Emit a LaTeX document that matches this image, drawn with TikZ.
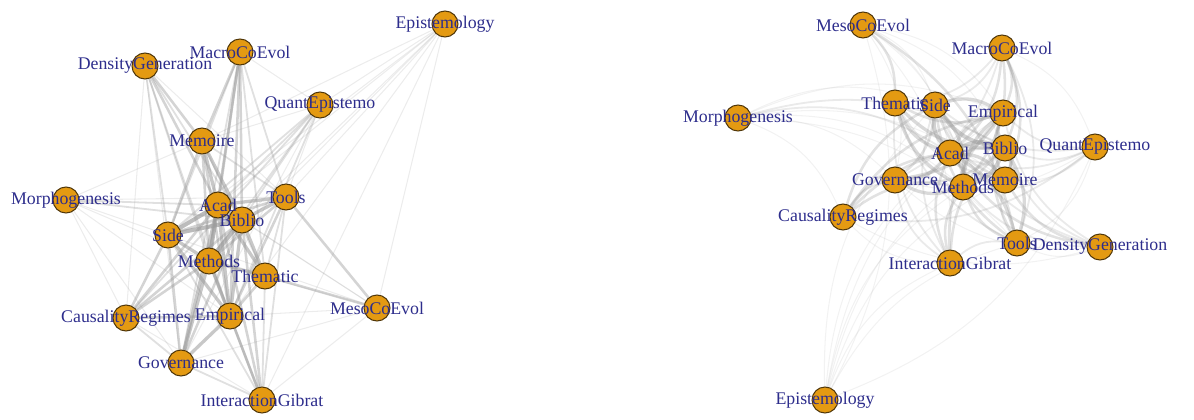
\documentclass[tikz,border=0pt]{standalone}
\usepackage{fontspec}
\setmainfont{Liberation Serif}
\pgfdeclarelayer{bg}
\pgfsetlayers{bg,main}
\definecolor{vfill}{RGB}{228,154,18}
\definecolor{vframe}{RGB}{80,55,10}
\definecolor{lblue}{RGB}{45,45,140}
\definecolor{egray}{RGB}{155,155,155}
\tikzset{
  vert/.style={circle, fill=vfill, draw=vframe, line width=1pt, minimum size=26pt, inner sep=0pt},
  vlabel/.style={text=lblue, font=\fontsize{17.8}{20}\selectfont, inner sep=0pt, anchor=center},
}
\def\edgelist{Acad/Bib/5, Acad/Side/5, Acad/Meth/5, Acad/Emp/4, Acad/Mem/4, Acad/Them/4, Acad/Tools/4,
Bib/Side/5, Bib/Meth/5, Bib/Emp/4, Bib/Tools/4, Bib/Them/4, Bib/Mem/4, Side/Meth/4, Side/Emp/4,
Meth/Emp/4, Meth/Them/4, Meth/Mem/3, Emp/Them/3, Emp/Gov/4, Meth/Gov/4, Side/Gov/3, Acad/Gov/4, Bib/Gov/3,
Caus/Side/3, Caus/Acad/3, Caus/Bib/3, Caus/Meth/3, Caus/Emp/3, Caus/Gov/2,
Inter/Emp/3, Inter/Meth/3, Inter/Acad/3, Inter/Bib/3, Inter/Side/2, Inter/Them/2, Inter/Gov/2, Inter/Tools/2, Inter/Caus/1,
Tools/Side/3, Tools/Meth/3, Tools/Emp/3, Tools/Them/2, Tools/Mem/2, Mem/Side/3, Mem/Emp/3, Mem/Them/2,
Macro/Mem/3, Macro/Acad/3, Macro/Bib/3, Macro/Meth/3, Macro/Emp/3, Macro/Side/2, Macro/Them/2, Macro/Quant/1, Macro/Tools/2, Macro/Gov/2,
Dens/Mem/3, Dens/Side/2, Dens/Meth/2, Dens/Acad/3, Dens/Bib/2, Dens/Emp/2, Dens/Caus/1, Dens/Gov/1, Dens/Tools/1,
Quant/Side/2, Quant/Meth/2, Quant/Acad/2, Quant/Bib/2, Quant/Emp/2, Quant/Caus/2, Quant/Gov/1, Quant/Mem/1, Quant/Epi/1, Quant/Tools/1,
Epi/Acad/1, Epi/Bib/1, Epi/Meth/1, Epi/Side/1, Epi/Emp/1, Epi/Tools/1, Epi/Inter/1, Epi/Mem/1,
Meso/Tools/3, Meso/Them/3, Meso/Acad/1, Meso/Bib/1, Meso/Emp/1, Meso/Meth/1, Meso/Inter/1, Meso/Gov/1, Meso/Side/1, Meso/Epi/1,
Morph/Acad/2, Morph/Bib/2, Morph/Side/1, Morph/Meth/1, Morph/Emp/1, Morph/Caus/1, Morph/Tools/1, Morph/Gov/1, Morph/Mem/1}
\def\nodelistL{Epi/445/24/Epistemology, Macro/240/52/MacroCoEvol, Dens/145/66/DensityGeneration, Quant/320/105/QuantEpistemo,
Mem/202/141/Memoire, Morph/66/200/Morphogenesis, Tools/286/197/Tools, Acad/218/205/Acad, Bib/242/220/Biblio,
Side/168/235/Side, Meth/209/261/Methods, Them/265/276/Thematic, Meso/377/308/MesoCoEvol, Caus/126/318/CausalityRegimes,
Emp/230/316/Empirical, Gov/181/363/Governance, Inter/262/400/InteractionGibrat}
\def\nodelistR{Meso/863/25/MesoCoEvol, Macro/1002/48/MacroCoEvol, Them/895/103/Thematic, Side/935/105/Side,
Emp/1003/113/Empirical, Morph/738/118/Morphogenesis, Quant/1095/147/QuantEpistemo, Acad/950/153/Acad,
Bib/1005/148/Biblio, Gov/895/180/Governance, Meth/963/187/Methods, Mem/1005/180/Memoire,
Caus/843/217/CausalityRegimes, Tools/1017/243/Tools, Dens/1100/247/DensityGeneration,
Inter/950/263/InteractionGibrat, Epi/825/400/Epistemology}
\begin{document}
\begin{tikzpicture}[x=1pt,y=-1pt]
\useasboundingbox (0,0) rectangle (1194,420);
% vertices
\foreach \n/\x/\y/\t in \nodelistL { \node[vert] (L\n) at (\x,\y) {}; }
\foreach \n/\x/\y/\t in \nodelistR { \node[vert] (R\n) at (\x,\y) {}; }
% edges
\begin{pgfonlayer}{bg}
\foreach \a/\b/\w in \edgelist {
  \pgfmathsetmacro\lw{0.3+0.75*\w}
  \pgfmathsetmacro\op{0.07+0.12*\w}
  \pgfmathsetmacro\opr{0.05+0.08*\w}
  \draw[draw=egray, line width=\lw pt, draw opacity=\op] (L\a) -- (L\b);
  \draw[draw=egray, line width=\lw pt, draw opacity=\opr] (R\a) to[bend left=22] (R\b);
}
\end{pgfonlayer}
% labels
\foreach \n/\x/\y/\t in \nodelistL { \node[vlabel] (tL\n) at (L\n.center) {\t}; }
\foreach \n/\x/\y/\t in \nodelistR { \node[vlabel] (tR\n) at (R\n.center) {\t}; }
\end{tikzpicture}
\end{document}
